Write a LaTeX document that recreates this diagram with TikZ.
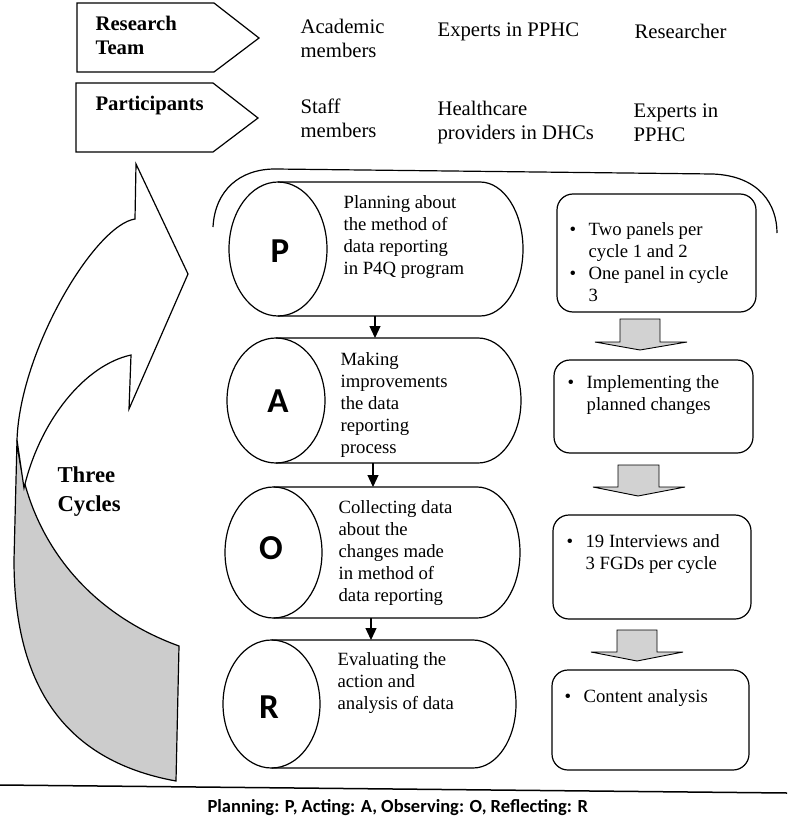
\documentclass[tikz,border=0pt]{standalone}
\usepackage{fontspec}
\setmainfont{Liberation Serif}
\newfontfamily\calibri{Carlito}
\usetikzlibrary{arrows.meta}

\begin{document}
\begin{tikzpicture}[x=1pt, y=-1pt, line width=1.2pt,
  txt/.style={rectangle, draw=none, inner sep=0pt, anchor=north west, align=left, font=\fontsize{18.7}{22}\selectfont},
  toptxt/.style={txt, font=\fontsize{20.7}{24}\selectfont},
  headtxt/.style={txt, font=\bfseries\fontsize{20.7}{24}\selectfont},
  letter/.style={rectangle, draw=none, font=\calibri\bfseries\fontsize{35}{40}\selectfont},
  flow/.style={-{Triangle[width=11pt, length=12pt]}},
  grayblock/.style={draw, fill=gray!35, line width=0.9pt},
  roundbox/.style={draw, rounded corners=16pt}]
\useasboundingbox (0,0) rectangle (787,824);
%%%%%%%%%%%%%%%%%%%%%%%%%%%%%%% Team and participants
\draw (77,3) -- (214,3) -- (259,38) -- (214,72) -- (77,72) -- cycle;
\draw (76,83) -- (213,83) -- (258,118) -- (213,152) -- (76,152) -- cycle;
\node[headtxt](team) at (95,15.7){Research\\Team};
\node[headtxt](parts) at (95,95.7){Participants};
\node[toptxt](teamA) at (300,18.7){Academic\\members};
\node[toptxt](teamB) at (437,21.7){Experts in PPHC};
\node[toptxt](teamC) at (634,23.7){Researcher};
\node[toptxt](partA) at (300,98.7){Staff\\members};
\node[toptxt](partB) at (437,100.7){Healthcare\\providers in DHCs};
\node[toptxt](partC) at (633,102.7){Experts in\\PPHC};

%%%%%%%%%%%%%%%%%%%%%%%%%%%%%%% Three cycles arrow
\draw[fill=gray!40] (17,440) .. controls (25,530) and (80,610) .. (179,646) -- (176,781) .. controls (60,760) and (14,680) .. (14,560) -- cycle;
\draw[fill=white] (17,440) .. controls (20,350) and (95,225) .. (135,219) -- (136,164) -- (188,274) -- (129,409) -- (131,355) .. controls (85,365) and (40,420) .. (24,488) -- cycle;
\node[txt, font=\bfseries\fontsize{22.7}{29}\selectfont](cycles) at (57,466){Three\\Cycles};

%%%%%%%%%%%%%%%%%%%%%%%%%%%%%%% Arc over the cycle
\draw (213,227) .. controls (215,190) and (240,169) .. (275,169) -- (713,174) .. controls (760,176) and (777,205) .. (777,233);

%%%%%%%%%%%%%%%%%%%%%%%%%%%%%%% P A O R
\draw (278,182) -- (480,182) arc[start angle=90, end angle=-90, x radius=43pt, y radius=67pt] -- (278,316);
\draw (278,249) ellipse[x radius=49pt, y radius=67pt];
\node[letter](letP) at (280,251){P};
\node[txt](planTxt) at (343,194.6){Planning about\\the method of\\data reporting\\in P4Q program};

\draw (276,338) -- (478,338) arc[start angle=90, end angle=-90, x radius=43pt, y radius=62.5pt] -- (276,463);
\draw (276,400.5) ellipse[x radius=49pt, y radius=62.5pt];
\node[letter](letA) at (278,401){A};
\node[txt](actTxt) at (340,351.6){Making\\improvements\\the data\\reporting\\process};

\draw (273.5,487) -- (477,487) arc[start angle=90, end angle=-90, x radius=43pt, y radius=65.5pt] -- (273.5,618);
\draw (273.5,552.5) ellipse[x radius=48.5pt, y radius=65.5pt];
\node[letter](letO) at (271,548){O};
\node[txt](obsTxt) at (338,499.6){Collecting data\\about the\\changes made\\in method of\\data reporting};

\draw (271.5,640) -- (473,640) arc[start angle=90, end angle=-90, x radius=43pt, y radius=64pt] -- (271.5,768);
\draw (271.5,704) ellipse[x radius=48.5pt, y radius=64pt];
\node[letter](letR) at (269,707){R};
\node[txt](refTxt) at (337,651.6){Evaluating the\\action and\\analysis of data};

\coordinate (pBottom) at (375,316);
\coordinate (aTop) at (375,338);
\coordinate (aBottom) at (373,463);
\coordinate (oTop) at (373,487);
\coordinate (oBottom) at (371,618);
\coordinate (rTop) at (371,640);
\draw[flow] (pBottom) -- (aTop);
\draw[flow] (aBottom) -- (oTop);
\draw[flow] (oBottom) -- (rTop);

%%%%%%%%%%%%%%%%%%%%%%%%%%%%%%% Right boxes
\draw[roundbox] (557,194) rectangle (756,312);
\node[txt](panelTxt) at (569,219.3){\begin{tabular}{@{}l@{\hspace{12.5pt}}l@{}}\textbullet & Two panels per\\ & cycle 1 and 2\\ \textbullet & One panel in cycle\\ & 3\end{tabular}};
\draw[grayblock] (620,319) -- (660,319) -- (660,342) -- (687,342) -- (640,350) -- (595,342) -- (620,342) -- cycle;

\draw[roundbox] (554,360) rectangle (753,453);
\node[txt](implTxt) at (567,372.3){\begin{tabular}{@{}l@{\hspace{12.5pt}}l@{}}\textbullet & Implementing the\\ & planned changes\end{tabular}};
\draw[grayblock] (618,465) -- (659,465) -- (659,487) -- (685,487) -- (638,496) -- (593,487) -- (618,487) -- cycle;

\draw[roundbox] (553,515) rectangle (751,619);
\node[txt](intTxt) at (566,531.3){\begin{tabular}{@{}l@{\hspace{12.5pt}}l@{}}\textbullet & 19 Interviews and\\ & 3 FGDs per cycle\end{tabular}};
\draw[grayblock] (617,630) -- (657,630) -- (657,652) -- (683,652) -- (637,661) -- (591,652) -- (617,652) -- cycle;

\draw[roundbox] (552,670) rectangle (749,770);
\node[txt](anaTxt) at (564,686.3){\begin{tabular}{@{}l@{\hspace{12.5pt}}l@{}}\textbullet & Content analysis\end{tabular}};

%%%%%%%%%%%%%%%%%%%%%%%%%%%%%%% Legend
\draw[line width=1.5pt] (0,785) -- (787,793);
\node[rectangle, draw=none, anchor=west, inner sep=0pt, font=\calibri\bfseries\fontsize{18.5}{22}\selectfont](legend) at (207,808){Planning: P, Acting: A, Observing: O, Reflecting: R};
\end{tikzpicture}
\end{document}
